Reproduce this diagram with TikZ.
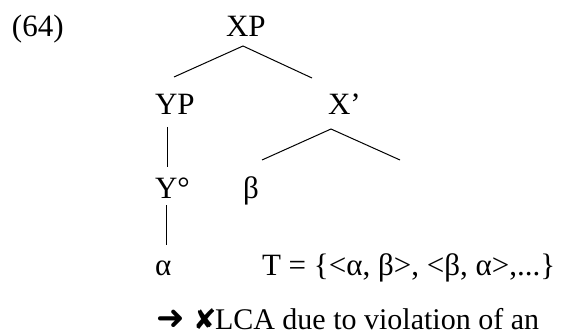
\documentclass[tikz,border=0pt]{standalone}
\usepackage{fontspec}
\setmainfont{Liberation Serif}
\newfontfamily\symfont{DejaVu Sans}
\begin{document}
\begin{tikzpicture}[x=1pt,y=-1pt,
  lbl/.style={anchor=base west,inner sep=0pt,outer sep=0pt,font=\fontsize{31}{35}\selectfont},
  branch/.style={line width=1pt,black}]
\useasboundingbox (0,0) rectangle (561,331);
\node[lbl] (num) at (12,37) {(64)};
\node[lbl] (XP) at (226,37) {XP};
\node[lbl] (YP) at (155,115) {YP};
\node[lbl] (Xb) at (328,115) {X’};
\node[lbl] (Y0) at (155,198) {Y°};
\node[lbl] (beta) at (243,198) {β};
\node[lbl] (alpha) at (155,275) {α};
\node[lbl] (T) at (262,275) {T = \{<α, β>, <β, α>,...\}};
\node[lbl,font=\fontsize{30}{34}\selectfont] (res) at (156,329) {\makebox[37pt][l]{\symfont\fontsize{34}{38}\selectfont ➜}\makebox[22pt][l]{\symfont\fontsize{28}{32}\selectfont ✘}LCA due to violation of an};
\coordinate (xpa) at (243,46);
\coordinate (xpl) at (174,77);
\coordinate (xpr) at (312,78);
\coordinate (ypt) at (167,127);
\coordinate (ypb) at (167,167);
\coordinate (y0t) at (166,205);
\coordinate (y0b) at (166,245);
\coordinate (xba) at (331,129);
\coordinate (xbl) at (262,160);
\coordinate (xbr) at (400,160);
\draw[branch] (xpl) -- (xpa) -- (xpr);
\draw[branch] (ypt) -- (ypb);
\draw[branch] (y0t) -- (y0b);
\draw[branch] (xbl) -- (xba) -- (xbr);
\end{tikzpicture}
\end{document}
